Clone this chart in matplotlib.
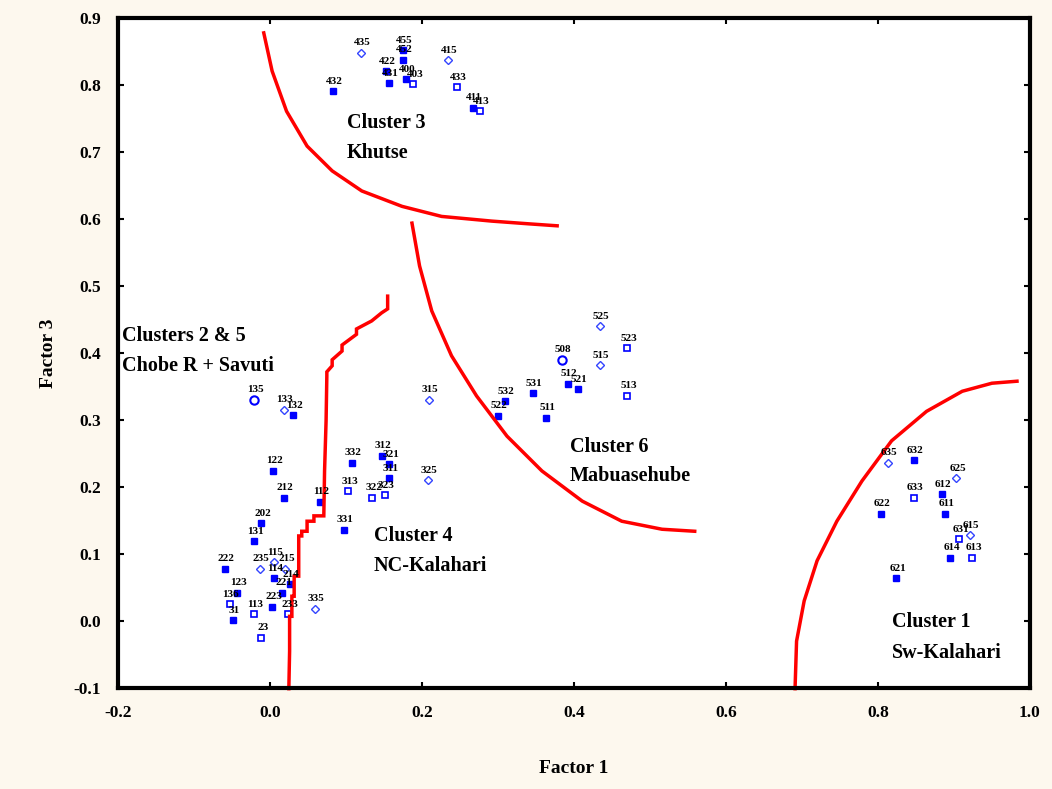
import matplotlib.pyplot as plt

# sample points: label, Factor 1, Factor 3, marker kind
labels = ["435", "455", "452", "415", "422", "431", "400", "403", "432", "433", "411", "413",
          "135", "133", "132", "122", "212", "112", "202", "131", "222", "235", "215", "115",
          "114", "214", "123", "221", "136", "223", "31", "113", "233", "23", "335",
          "332", "313", "331", "312", "321", "311", "322", "323", "325", "315",
          "525", "523", "508", "515", "512", "521", "531", "532", "522", "511", "513",
          "635", "632", "625", "633", "612", "611", "622", "615", "631", "614", "613", "621"]
factor1 = [0.120, 0.175, 0.175, 0.234, 0.153, 0.157, 0.179, 0.189, 0.083, 0.246, 0.267, 0.276,
           -0.021, 0.018, 0.030, 0.004, 0.018, 0.066, -0.011, -0.021, -0.059, -0.013, 0.020, 0.005,
           0.005, 0.026, -0.043, 0.016, -0.053, 0.003, -0.049, -0.021, 0.024, -0.011, 0.059,
           0.108, 0.103, 0.097, 0.147, 0.157, 0.157, 0.135, 0.151, 0.208, 0.209,
           0.434, 0.470, 0.384, 0.434, 0.392, 0.405, 0.346, 0.309, 0.300, 0.363, 0.470,
           0.813, 0.847, 0.903, 0.847, 0.884, 0.888, 0.804, 0.921, 0.907, 0.895, 0.924, 0.824]
factor3 = [0.848, 0.852, 0.838, 0.837, 0.821, 0.803, 0.809, 0.801, 0.791, 0.797, 0.766, 0.761,
           0.330, 0.315, 0.307, 0.224, 0.184, 0.178, 0.146, 0.119, 0.078, 0.078, 0.078, 0.088,
           0.064, 0.055, 0.042, 0.042, 0.025, 0.021, 0.001, 0.010, 0.010, -0.025, 0.018,
           0.236, 0.194, 0.136, 0.247, 0.234, 0.213, 0.184, 0.188, 0.210, 0.330,
           0.440, 0.407, 0.390, 0.382, 0.354, 0.346, 0.340, 0.328, 0.306, 0.303, 0.336,
           0.236, 0.240, 0.213, 0.184, 0.189, 0.160, 0.160, 0.128, 0.122, 0.094, 0.094, 0.064]
kinds = ["d", "f", "f", "d", "f", "f", "f", "o", "f", "o", "f", "o",
         "c", "d", "f", "f", "f", "f", "f", "f", "f", "d", "d", "d",
         "f", "f", "f", "f", "o", "f", "f", "o", "o", "o", "d",
         "f", "o", "f", "f", "f", "f", "o", "o", "d", "d",
         "d", "o", "c", "d", "f", "f", "f", "f", "f", "f", "o",
         "d", "f", "d", "o", "f", "f", "f", "d", "o", "f", "o", "f"]

# hand-drawn cluster boundaries
khutse_x = [-0.008, 0.003, 0.022, 0.049, 0.082, 0.121, 0.174, 0.226, 0.292, 0.340, 0.378]
khutse_y = [0.878, 0.821, 0.761, 0.709, 0.672, 0.642, 0.619, 0.604, 0.597, 0.593, 0.590]
mabua_x = [0.187, 0.197, 0.213, 0.239, 0.272, 0.312, 0.358, 0.411, 0.463, 0.516, 0.559]
mabua_y = [0.594, 0.530, 0.463, 0.396, 0.336, 0.276, 0.224, 0.179, 0.149, 0.137, 0.134]
swk_x = [0.691, 0.693, 0.703, 0.720, 0.746, 0.779, 0.818, 0.864, 0.911, 0.950, 0.983]
swk_y = [-0.101, -0.030, 0.030, 0.090, 0.149, 0.209, 0.269, 0.313, 0.343, 0.355, 0.358]
chobe_x = [0.025, 0.026, 0.026, 0.029, 0.029, 0.032, 0.032, 0.038, 0.038, 0.042, 0.042, 0.049,
           0.049, 0.058, 0.058, 0.071, 0.072, 0.074, 0.075, 0.075, 0.082, 0.082, 0.095, 0.095,
           0.114, 0.114, 0.134, 0.147, 0.155, 0.155]
chobe_y = [-0.101, -0.045, 0.007, 0.007, 0.037, 0.037, 0.067, 0.067, 0.127, 0.127, 0.134, 0.134,
           0.149, 0.149, 0.157, 0.157, 0.224, 0.299, 0.366, 0.372, 0.381, 0.390, 0.403, 0.412,
           0.428, 0.436, 0.448, 0.460, 0.466, 0.485]

cluster_names = ["Cluster 3", "Khutse", "Clusters 2 & 5", "Chobe R + Savuti",
                 "Cluster 6", "Mabuasehube", "Cluster 4", "NC-Kalahari",
                 "Cluster 1", "Sw-Kalahari"]
name_x = [0.101, 0.101, -0.195, -0.195, 0.395, 0.395, 0.137, 0.137, 0.818, 0.818]
name_y = [0.743, 0.699, 0.425, 0.381, 0.260, 0.216, 0.127, 0.082, -0.002, -0.047]

serif = "Liberation Serif"
blue = "#0000ff"
fig = plt.figure(figsize=(10.52, 7.89), dpi=100, facecolor="#fdf8ee")
ax = fig.add_axes([0.112, 0.128, 0.867, 0.849])
ax.set_facecolor("white")

styles = {"f": dict(marker="s", ms=5, mfc=blue, mec=blue),
          "o": dict(marker="s", ms=5, mfc="white", mec=blue, mew=1.2),
          "d": dict(marker="D", ms=4, mfc="white", mec="#3344ff", mew=1.0),
          "c": dict(marker="o", ms=6, mfc="white", mec=blue, mew=1.5)}
for lab, x, y, k in zip(labels, factor1, factor3, kinds):
    ax.plot(x, y, ls="none", **styles[k])
    ax.annotate(lab, (x, y), xytext=(1, 4), textcoords="offset points",
                ha="center", va="bottom", fontsize=8, family=serif, fontweight="bold")

for cx, cy in [(khutse_x, khutse_y), (mabua_x, mabua_y), (swk_x, swk_y), (chobe_x, chobe_y)]:
    ax.plot(cx, cy, color="red", lw=2.5, solid_joinstyle="miter", clip_on=False)

for txt, x, y in zip(cluster_names, name_x, name_y):
    ax.text(x, y, txt, fontsize=14.5, family=serif, fontweight="bold", va="center")

ax.set_xlim(-0.2, 1.0)
ax.set_ylim(-0.1, 0.9)
ax.set_xticks([-0.2, 0.0, 0.2, 0.4, 0.6, 0.8, 1.0])
ax.set_yticks([-0.1, 0.0, 0.1, 0.2, 0.3, 0.4, 0.5, 0.6, 0.7, 0.8, 0.9])
ax.xaxis.set_major_formatter(plt.FormatStrFormatter("%.1f"))
ax.yaxis.set_major_formatter(plt.FormatStrFormatter("%.1f"))
ax.tick_params(direction="in", length=4, width=1.5, top=True, right=True, pad=12,
               labelsize=12.5)
for t in ax.get_xticklabels() + ax.get_yticklabels():
    t.set_family(serif)
    t.set_fontweight("bold")
for s in ax.spines.values():
    s.set_linewidth(3)
ax.set_xlabel("Factor 1", fontsize=14, family=serif, fontweight="bold", labelpad=28)
ax.set_ylabel("Factor 3", fontsize=14, family=serif, fontweight="bold", labelpad=12)

fig.savefig("out.png", dpi=100, facecolor=fig.get_facecolor())
